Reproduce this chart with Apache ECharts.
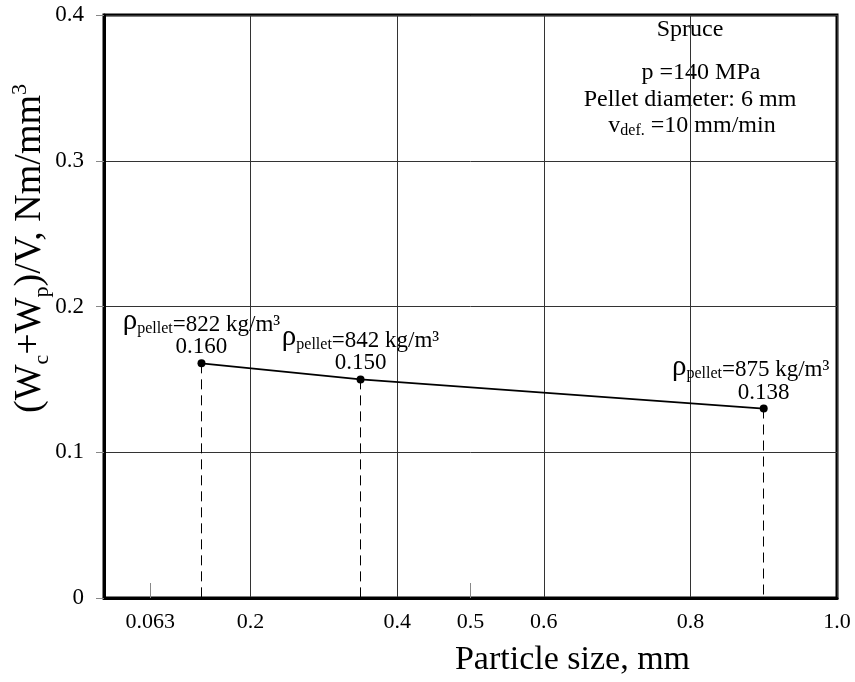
<!DOCTYPE html>
<html>
<head>
<meta charset="utf-8">
<script src="https://cdn.jsdelivr.net/npm/echarts@6/dist/echarts.min.js"></script>
<style>
  html, body { margin: 0; padding: 0; background: #fff; }
  #main { width: 855px; height: 682px; }
</style>
</head>
<body>
<div id="main"></div>
<script>
// particle size (mm) and specific energy (Nm/mm3)
var sizes = [0.133, 0.35, 0.9];
var energy = [0.161, 0.150, 0.130];
var valueLabels = ['0.160', '0.150', '0.138'];
var densities = ['822', '842', '875'];

var xTickValues = [0.063, 0.2, 0.4, 0.5, 0.6, 0.8, 1.0];
var xTickLabels = ['0.063', '0.2', '0.4', '0.5', '0.6', '0.8', '1.0'];
var xMinorTicks = [0.063, 0.5];

var serif = 'Liberation Serif';

var chart = echarts.init(document.getElementById('main'));

var points = sizes.map(function (x, i) {
  var last = i === sizes.length - 1;
  return {
    value: [x, energy[i]],
    label: {
      formatter: '{r|ρ}{s|pellet}{t|=' + densities[i] + ' kg/m³}' + (last ? '{pad|}' : '') + '\n{v|' + valueLabels[i] + '}'
    }
  };
});

// dashed drops from each point to the axis
var drops = sizes.map(function (x, i) {
  return [{ coord: [x, energy[i]] }, { coord: [x, 0] }];
});

var option = {
  animation: false,
  textStyle: { fontFamily: serif },
  grid: {
    left: 104, right: 18, top: 15, bottom: 84,
    outerBoundsMode: 'none',
    containLabel: false,
    show: true, borderColor: '#000', borderWidth: 3
  },
  xAxis: [{
    type: 'value', min: 0, max: 1, interval: 0.2,
    axisLine: { show: true, lineStyle: { color: '#000', width: 3 } },
    axisTick: { show: false },
    axisLabel: { show: false },
    splitLine: { show: true, lineStyle: { color: '#333', width: 1 } },
    name: 'Particle size, mm',
    nameLocation: 'middle',
    nameGap: 45,
    nameMoveOverlap: false,
    nameTextStyle: { fontFamily: serif, fontSize: 34, color: '#000', padding: [0, 0, 0, 204] }
  }, {
    type: 'value', min: 0, max: 1, position: 'bottom',
    axisLine: { show: false },
    axisTick: {
      show: true, inside: true, length: 15, customValues: xMinorTicks,
      lineStyle: { color: '#888', width: 1 }
    },
    axisLabel: {
      customValues: xTickValues,
      margin: 13,
      fontFamily: serif, fontSize: 22, color: '#000',
      formatter: function (v) {
        var k = xTickValues.indexOf(v);
        return k >= 0 ? xTickLabels[k] : '';
      }
    },
    splitLine: { show: false }
  }],
  yAxis: {
    type: 'value', min: 0, max: 0.4, interval: 0.1,
    axisLine: { show: true, lineStyle: { color: '#000', width: 3 } },
    axisTick: { show: true, length: 8, lineStyle: { color: '#888' } },
    axisLabel: {
      margin: 20, fontFamily: serif, fontSize: 23, color: '#000',
      formatter: function (v) { return v === 0 ? '0' : v.toFixed(1); }
    },
    splitLine: { show: true, lineStyle: { color: '#333', width: 1 } },
    name: '(W{sb|c}+W{sb|p})/V, Nm/mm{sp|3}',
    nameLocation: 'middle',
    nameGap: 55,
    nameMoveOverlap: false,
    nameTextStyle: {
      fontFamily: serif, fontSize: 38, color: '#000', padding: [0, 0, 0, 116],
      rich: {
        sb: { fontFamily: serif, fontSize: 22, color: '#000', verticalAlign: 'bottom', padding: [0, 0, -4, 0] },
        sp: { fontFamily: serif, fontSize: 22, color: '#000', verticalAlign: 'top', padding: [-2, 0, 0, 0] }
      }
    }
  },
  graphic: [
    { type: 'text', x: 690, y: 30, style: { text: 'Spruce', fontFamily: serif, fontSize: 24, fill: '#000', align: 'center', verticalAlign: 'middle' } },
    { type: 'text', x: 701, y: 73, style: { text: 'p =140 MPa', fontFamily: serif, fontSize: 24, fill: '#000', align: 'center', verticalAlign: 'middle' } },
    { type: 'text', x: 690, y: 100, style: { text: 'Pellet diameter: 6 mm', fontFamily: serif, fontSize: 24, fill: '#000', align: 'center', verticalAlign: 'middle' } },
    { type: 'text', x: 692, y: 126, style: {
      text: '{a|v}{b|def.}{a| =10 mm/min}', align: 'center', verticalAlign: 'middle',
      rich: {
        a: { fontFamily: serif, fontSize: 24, fill: '#000', verticalAlign: 'bottom' },
        b: { fontFamily: serif, fontSize: 16, fill: '#000', verticalAlign: 'bottom', padding: [0, 0, -1, 0] }
      }
    } }
  ],
  series: [{
    type: 'line',
    xAxisIndex: 0,
    data: points,
    symbol: 'circle',
    symbolSize: 8,
    itemStyle: { color: '#000' },
    lineStyle: { color: '#000', width: 1.8 },
    label: {
      show: true, position: 'top', distance: 1, align: 'center', lineHeight: 22,
      rich: {
        r: { fontFamily: serif, fontSize: 29, color: '#000', verticalAlign: 'bottom', lineHeight: 22 },
        s: { fontFamily: serif, fontSize: 16, color: '#000', verticalAlign: 'bottom', lineHeight: 22 },
        t: { fontFamily: serif, fontSize: 23, color: '#000', verticalAlign: 'bottom', lineHeight: 22 },
        pad: { width: 26 },
        v: { fontFamily: serif, fontSize: 23, color: '#000', lineHeight: 22 }
      }
    },
    markLine: {
      silent: true,
      symbol: ['none', 'none'],
      label: { show: false },
      lineStyle: { color: '#000', type: [10, 6], width: 1 },
      data: drops
    }
  }]
};

chart.setOption(option);
</script>
</body>
</html>
